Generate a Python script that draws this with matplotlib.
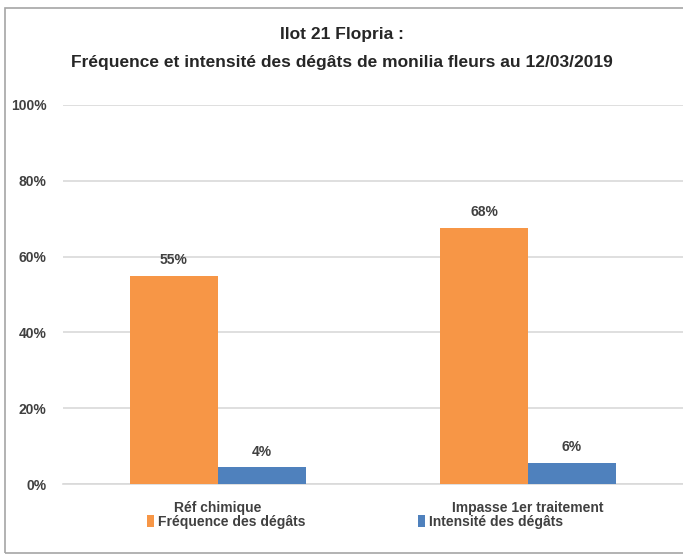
import matplotlib
matplotlib.use('Agg')
import matplotlib.pyplot as plt
from matplotlib.patches import Rectangle

plt.rcParams['font.family'] = ['Liberation Sans', 'DejaVu Sans']

categories = ['Réf chimique', 'Impasse 1er traitement']
frequence = [0.55, 0.676]
intensite = [0.044, 0.056]
series_names = ['Fréquence des dégâts', 'Intensité des dégâts']
colors = ['#F79646', '#4F81BD']

fig = plt.figure(figsize=(6.83, 5.57), dpi=100)
ax = fig.add_axes([63 / 683, 1 - 484 / 557, 620 / 683, 379 / 557])

x = [0, 1]
w = 0.284
b1 = ax.bar([i - w / 2 for i in x], frequence, w, color=colors[0], label=series_names[0], zorder=3)
b2 = ax.bar([i + w / 2 for i in x], intensite, w, color=colors[1], label=series_names[1], zorder=3)

for bars in (b1, b2):
    for r in bars:
        ax.text(r.get_x() + r.get_width() / 2, r.get_height() + 0.022, '{:.0%}'.format(r.get_height()),
                ha='center', va='bottom', fontsize=10, fontweight='bold', color='#404040')

ax.set_xlim(-0.5, 1.5)
ax.set_ylim(0, 1)
ax.set_yticks([0, 0.2, 0.4, 0.6, 0.8, 1.0])
ax.set_yticklabels(['0%', '20%', '40%', '60%', '80%', '100%'])
ax.set_xticks(x)
ax.set_xticklabels(categories)
ax.tick_params(axis='both', length=0, labelsize=10, colors='#404040')
ax.tick_params(axis='x', pad=12)
ax.tick_params(axis='y', pad=12)
for lab in ax.get_xticklabels() + ax.get_yticklabels():
    lab.set_fontweight('bold')
ax.grid(axis='y', color='#D9D9D9', linewidth=1.2, zorder=0)
for s in ['top', 'right', 'left']:
    ax.spines[s].set_visible(False)
ax.spines['bottom'].set_color('#D9D9D9')
ax.spines['bottom'].set_linewidth(1.2)

fig.text(0.5, 1 - 35 / 557, 'Ilot 21 Flopria :', ha='center', va='center',
         fontsize=12.5, fontweight='bold', color='#262626')
fig.text(0.5, 1 - 62 / 557, 'Fréquence et intensité des dégâts de monilia fleurs au 12/03/2019',
         ha='center', va='center', fontsize=12.5, fontweight='bold', color='#262626')

fig.legend(handles=[b1, b2], labels=series_names, loc='center', bbox_to_anchor=(355 / 683, 1 - 522 / 557),
           ncol=2, frameon=False, handlelength=0.5, handleheight=0.9,
           handletextpad=0.3, columnspacing=8.1,
           prop={'weight': 'bold', 'size': 10})
for t in fig.legends[0].get_texts():
    t.set_color('#404040')

fig.patches.append(Rectangle((5 / 683, 4 / 557), 1.2, 1 - 12 / 557, transform=fig.transFigure,
                             fill=False, edgecolor='#A6A6A6', linewidth=1.2))

fig.savefig('out.png', dpi=100)
